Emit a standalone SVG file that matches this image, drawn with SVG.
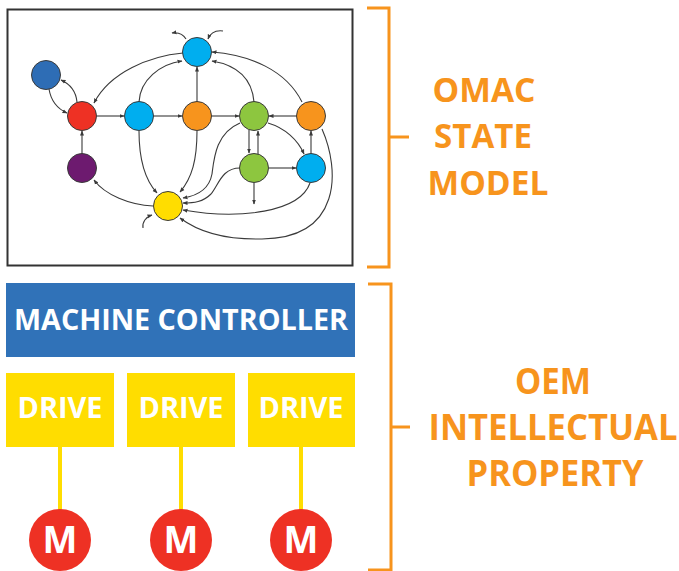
<svg xmlns="http://www.w3.org/2000/svg" width="679" height="571" viewBox="0 0 679 571">
<defs>
<marker id="ah" viewBox="0 0 10 10" refX="9" refY="5" markerWidth="5" markerHeight="5" orient="auto" markerUnits="userSpaceOnUse">
<path d="M0,1 L10,5 L0,9 Z" fill="#3a3a3a"/>
</marker>
<style>
.st{stroke:#3a3a3a;stroke-width:1}
.e{fill:none;stroke:#3a3a3a;stroke-width:1.1;marker-end:url(#ah)}
.br{fill:none;stroke:#f7941d;stroke-width:3}
.ot{font-family:"Open Sans","DejaVu Sans",sans-serif;font-weight:700;fill:#f7941d;text-anchor:middle}
.wt{font-family:"Open Sans","DejaVu Sans",sans-serif;font-weight:700;fill:#ffffff;text-anchor:middle}
</style>
</defs>
<rect width="679" height="571" fill="#ffffff"/>
<rect id="frame" x="7.5" y="9.5" width="345" height="256" fill="#ffffff" stroke="#333333" stroke-width="2"/>
<g id="connectors">
<path class="e" d="M77,102 C76,92 70,84 61,80"/>
<path class="e" d="M49,89 C51,101 58,109 67,113"/>
<path class="e" d="M183,53 C150,56 110,72 94,103"/>
<path class="e" d="M97,116 L124,116"/>
<path class="e" d="M139,102 C140,80 160,64 182,61"/>
<path class="e" d="M153,116 L182,116"/>
<path class="e" d="M197,102 L197,67"/>
<path class="e" d="M211,116 L239,116"/>
<path class="e" d="M254,102 C252,78 236,65 212,61"/>
<path class="e" d="M302,102 C286,70 250,55 212,52"/>
<path class="e" d="M297,116 L269,116"/>
<path class="e" d="M249,130 L249,153"/>
<path class="e" d="M258,154 L258,131"/>
<path class="e" d="M268,123 C285,128 298,140 304,154"/>
<path class="e" d="M269,168 L296,168"/>
<path class="e" d="M311,154 L311,131"/>
<path class="e" d="M254,183 L254,204"/>
<path class="e" d="M186,39 C183,34 178,32 172,33"/>
<path class="e" d="M223,31 C215,30 210,34 208,39"/>
<path class="e" d="M143,228 C142,222 146,217 152,215"/>
<path class="e" d="M153,206 C130,205 105,195 94,180"/>
<path class="e" d="M82,154 L82,131"/>
<path class="e" d="M139,131 C139,160 145,180 157,193"/>
<path class="e" d="M197,131 C197,160 192,178 180,192"/>
<path class="e" d="M240,123 C216,133 214,158 212,174 C209,190 196,196 183,198"/>
<path class="e" d="M240,168 C222,168 219,184 211,194 C203,202 194,203 183,203"/>
<path class="e" d="M310,183 C300,212 240,220 183,210"/>
<path class="e" d="M322,129 C340,170 342,238 262,239 C222,240 196,230 180,218"/>
</g>
<g id="n-top"><circle class="st" cx="197" cy="52" r="14.5" fill="#00aeef"/></g>
<g id="n-darkblue"><circle class="st" cx="46" cy="75" r="14.5" fill="#2e6db5"/></g>
<g id="n-red"><circle class="st" cx="82" cy="116" r="14.5" fill="#ee3124"/></g>
<g id="n-cyan2"><circle class="st" cx="139" cy="116" r="14.5" fill="#00aeef"/></g>
<g id="n-orange1"><circle class="st" cx="197" cy="116" r="14.5" fill="#f7941d"/></g>
<g id="n-green1"><circle class="st" cx="254" cy="116" r="14.5" fill="#8dc63f"/></g>
<g id="n-orange2"><circle class="st" cx="311" cy="116" r="14.5" fill="#f7941d"/></g>
<g id="n-purple"><circle class="st" cx="82" cy="168" r="14.5" fill="#6d1a6f"/></g>
<g id="n-green2"><circle class="st" cx="254" cy="168" r="14.5" fill="#8dc63f"/></g>
<g id="n-cyan3"><circle class="st" cx="311" cy="168" r="14.5" fill="#00aeef"/></g>
<g id="n-yellow"><circle class="st" cx="168" cy="206" r="14.5" fill="#ffdd00"/></g>

<g id="bracket-top">
<path class="br" d="M367,8 L389,8 L389,267 L367,267 M389,137 L409,137"/>
</g>
<g id="label-omac">
<text class="ot" x="484" y="102" font-size="34" textLength="103" lengthAdjust="spacingAndGlyphs">OMAC</text>
<text class="ot" x="483" y="148" font-size="34" textLength="98" lengthAdjust="spacingAndGlyphs">STATE</text>
<text class="ot" x="488" y="195" font-size="34" textLength="121" lengthAdjust="spacingAndGlyphs">MODEL</text>
</g>

<g id="machine-controller">
<rect x="6" y="283" width="349" height="74" fill="#3072b8"/>
<text class="wt" x="181" y="330" font-size="29" textLength="334" lengthAdjust="spacingAndGlyphs">MACHINE CONTROLLER</text>
</g>

<g id="wires">
<line x1="60" y1="446" x2="60" y2="512" stroke="#ffdd00" stroke-width="4"/>
<line x1="181" y1="446" x2="181" y2="512" stroke="#ffdd00" stroke-width="4"/>
<line x1="301" y1="446" x2="301" y2="512" stroke="#ffdd00" stroke-width="4"/>
</g>

<g id="drive1">
<rect x="6" y="373" width="108" height="74" fill="#ffdd00"/>
<text class="wt" x="60" y="418" font-size="28" textLength="85" lengthAdjust="spacingAndGlyphs">DRIVE</text>
</g>
<g id="drive2">
<rect x="127" y="373" width="108" height="74" fill="#ffdd00"/>
<text class="wt" x="181" y="418" font-size="28" textLength="85" lengthAdjust="spacingAndGlyphs">DRIVE</text>
</g>
<g id="drive3">
<rect x="248" y="373" width="107" height="74" fill="#ffdd00"/>
<text class="wt" x="301" y="418" font-size="28" textLength="85" lengthAdjust="spacingAndGlyphs">DRIVE</text>
</g>

<g id="motor1">
<circle cx="60" cy="540" r="31" fill="#ee3124"/>
<text class="wt" x="60" y="553" font-size="37">M</text>
</g>
<g id="motor2">
<circle cx="181" cy="540" r="31" fill="#ee3124"/>
<text class="wt" x="181" y="553" font-size="37">M</text>
</g>
<g id="motor3">
<circle cx="301" cy="540" r="31" fill="#ee3124"/>
<text class="wt" x="301" y="553" font-size="37">M</text>
</g>

<g id="bracket-bottom">
<path class="br" d="M368,284 L391,284 L391,570 L368,570 M391,427 L410,427"/>
</g>
<g id="label-oem">
<text class="ot" x="553" y="394" font-size="35" textLength="76" lengthAdjust="spacingAndGlyphs">OEM</text>
<text class="ot" x="553" y="440" font-size="35" textLength="249" lengthAdjust="spacingAndGlyphs">INTELLECTUAL</text>
<text class="ot" x="555" y="486" font-size="35" textLength="177" lengthAdjust="spacingAndGlyphs">PROPERTY</text>
</g>
</svg>
